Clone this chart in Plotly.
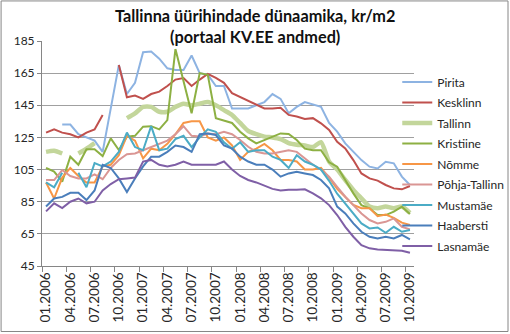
import plotly.graph_objects as go

months = ["01.2006","02.2006","03.2006","04.2006","05.2006","06.2006","07.2006","08.2006","09.2006","10.2006","11.2006","12.2006",
          "01.2007","02.2007","03.2007","04.2007","05.2007","06.2007","07.2007","08.2007","09.2007","10.2007","11.2007","12.2007",
          "01.2008","02.2008","03.2008","04.2008","05.2008","06.2008","07.2008","08.2008","09.2008","10.2008","11.2008","12.2008",
          "01.2009","02.2009","03.2009","04.2009","05.2009","06.2009","07.2009","08.2009","09.2009","10.2009"]

pirita = [None, None, 133, 133, 127, 125, 123, 116, 143, 170, 152, 159, 178, 178.5, 174, 168, 167, 167, 176, 165, 164, 157, 157, 143,
          143, 143, 145, 147, 152, 149, 140, 144, 147, 145.5, 144, 134, 128.6, 121.3, 116.1, 110.9, 106.8, 105.7, 109.9, 108.9, 100.6, 95.4]
kesklinn = [128, 130, 128, 127, 125, 128, 130, 139, None, 170, 150, 151, 149, 152, 153.5, 157, 161, 162, 157, 161, 164.5, 162, 159, 152.5,
            150, 148, 145, 143, 143, 143.5, 139, 138, 136.5, 137, 133.8, 129.6, 122.3, 118.2, 110.9, 102.6, 99.5, 98.1, 95.4, 93.3, 92.7, 94.8]
tallinn = [116, 116.7, 115, None, 115, 118, 121.5, None, None, None, 137, 140, 144, 144, 141, 141, 144, 146, 145, 146, 147, 145, 142, 139,
           134, 129, 127, 125.5, 125, 124, 121.5, 120.5, 120, 119, 122, 110, 105, 98.5, 92.3, 87.1, 82, 81, 82, 81, 82, 78]
kristiine = [106, 103.7, 97.5, 113, 108, 117.6, 117.6, 113.4, 124.4, 117.2, 125.5, 126, 131.7, 132, 130, 135.8, 180, 160, 140, 165, 164, 137, 135.5, 134,
             128.5, 124.4, 121.3, 123.4, 125.9, 127.5, 127.1, 123.4, 118, 117, 117, 109.5, 106.8, 98.5, 90.2, 82.9, 80.9, 76.7, 76.7, 78.8, 81.9, 77.3]
nomme = [97, 87, 100, 106, 101, 97, 97, 107, 108, 114, 126, 123, 112, 118, 117, 121, 127, 134, 135, 135, 125, 123, 125, 120,
         111, 116, 118, 121, 117, 111, 111, 110, 105, 105, 106, 100, 93, 88, 83, 81, 81, 76, 77, 75, 72, 70.5]
pohja = [98.5, 98.5, 104.7, 101, 99.5, 99.5, 102, 99, 106, 111, 114.5, 115, 117, 119, 121, 123, 127, 132, 126, 125.5, 127.5, 127, 128.5, 127,
         123.4, 119.2, 116.1, 115, 115, 116, 117, 116, 112, 108, 105, 100.5, 94.3, 88.1, 82.9, 77.7, 73.6, 71.5, 72.5, 74.6, 69.4, 67.8]
mustamae = [97, 94, 103, None, 103, 94, 109, 107, 110, 116, 128, 119, 117, 132, 117, 118, 124, 126, 119, 125, 130, 128.5, 122, 118,
            122, 116, 117, 117, 113, 111, 106, 114, 110, 108, 105, 98, 90, 84, 77.7, 71.5, 68.4, 69, 65.7, 69.4, 66.3, 67.4]
haabersti = [82, 87, 88, 90.5, 90.5, 86, 92, 108, 106, 99.5, 91, 99.5, 107, 113, 113, 116, 120, 119, 116, 127, 127.5, 126.5, 120, 118,
             113, 110, 108, 108, 105, 100.6, 102.6, 103.7, 102.6, 101.6, 98.5, 93.3, 82, 77.7, 71.5, 66.3, 63.2, 62.2, 63.2, 62.2, 64.3, 61.6]
lasnamae = [79, 84, 81, 85, 87, 84, 85, 92, 96, 99, 99.5, 100, 110, 111, 108, 107, 108, 110, 108, 108, 108, 108, 110, 105,
            101, 98.5, 97, 95, 93, 92, 92.5, 92.5, 92.7, 90.2, 87.1, 82.9, 76.7, 69.4, 63.2, 58, 56, 55.3, 54.9, 54.5, 54.5, 53.3]

series = [
    ("Pirita", pirita, "#8DB3E2", 2, "linear"),
    ("Kesklinn", kesklinn, "#C0504D", 2, "linear"),
    ("Tallinn", tallinn, "#C3D69B", 4.5, "spline"),
    ("Kristiine", kristiine, "#8DB043", 2, "linear"),
    ("Nõmme", nomme, "#F79646", 2, "linear"),
    ("Põhja-Tallinn", pohja, "#DA9694", 2, "linear"),
    ("Mustamäe", mustamae, "#4BACC6", 2, "linear"),
    ("Haabersti", haabersti, "#4A7EBB", 2, "linear"),
    ("Lasnamäe", lasnamae, "#7F5FA6", 2, "linear"),
]

FONT = "Lato, Liberation Sans, Arial, sans-serif"
TXT = "#262626"

fig = go.Figure()
for name, vals, color, width, shape in series:
    fig.add_trace(go.Scatter(
        x=months, y=vals, name=name, mode="lines", legendgroup=name,
        line=dict(color=color, width=width, shape=shape, smoothing=0.6 if shape == "spline" else None),
        connectgaps=False,
    ))

fig.update_layout(
    width=510, height=334,
    margin=dict(l=42, r=96, t=41, b=68, autoexpand=False),
    paper_bgcolor="white", plot_bgcolor="white",
    font=dict(family=FONT, size=12, color=TXT),
    showlegend=True,
    legend=dict(x=0.955, y=0.882, xanchor="left", yanchor="top",
                font=dict(family=FONT, size=12, color=TXT),
                bgcolor="rgba(0,0,0,0)", itemwidth=30, tracegroupgap=1.5),
    xaxis=dict(type="category", tickmode="linear", tick0=0, dtick=3,
               tickson="boundaries", ticks="outside", ticklen=5, tickcolor="#868686",
               showline=True, linecolor="#868686", linewidth=1, showgrid=False,
               tickangle=-90, tickfont=dict(size=13.5, color=TXT),
               range=[-0.5, 45.5], fixedrange=True),
    yaxis=dict(range=[45, 185], tickmode="linear", tick0=45, dtick=20,
               showgrid=True, gridcolor="#A0A0A0", gridwidth=1,
               showline=True, linecolor="#868686", linewidth=1,
               ticks="outside", ticklen=4, tickcolor="#868686",
               zeroline=False, tickfont=dict(size=12, color=TXT)),
)

fig.add_annotation(
    xref="paper", yref="paper", x=0.5726, y=1.066, xanchor="center", yanchor="middle",
    text="<b>Tallinna üürihindade dünaamika, kr/m2<br>(portaal KV.EE andmed)</b>",
    showarrow=False, font=dict(family=FONT, size=16.3, color="#111111"),
    bgcolor="white", borderpad=2,
)

fig.add_shape(type="rect", xref="paper", yref="paper",
              x0=-0.110, x1=1.2527, y0=-0.2911, y1=1.178,
              line=dict(color="#868686", width=1), fillcolor="rgba(0,0,0,0)", layer="below")

fig.write_html("out.html")
